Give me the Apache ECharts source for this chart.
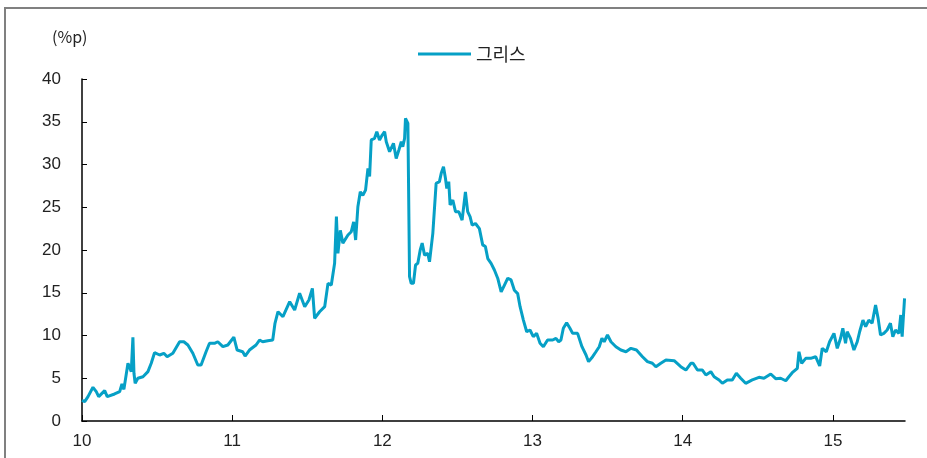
<!DOCTYPE html>
<html>
<head>
<meta charset="utf-8">
<script src="https://cdn.jsdelivr.net/npm/echarts@6/dist/echarts.min.js"></script>
<style>
  html, body { margin: 0; padding: 0; background: #fff; }
  #chart { width: 927px; height: 458px; }
  .frame {
    position: absolute; left: 4px; top: 7px; right: 0; bottom: 0;
    border-left: 2px solid #808080; border-top: 2px solid #808080;
    pointer-events: none;
  }
</style>
</head>
<body>
<div id="chart"></div>
<div class="frame"></div>
<script>
// 그리스 국채 스프레드 (%p), x = 연도(10 = 2010)
const years = [
  10.00, 10.018, 10.040, 10.073, 10.095, 10.111, 10.151, 10.168, 10.217, 10.251,
  10.266, 10.279, 10.306, 10.317, 10.328, 10.339, 10.346, 10.354, 10.372, 10.406,
  10.439, 10.461, 10.483, 10.517, 10.545, 10.567, 10.605, 10.650, 10.678, 10.705,
  10.738, 10.771, 10.793, 10.826, 10.849, 10.882, 10.904, 10.938, 10.971, 11.011,
  11.033, 11.070, 11.086, 11.115, 11.159, 11.182, 11.203, 11.237, 11.270, 11.285,
  11.305, 11.338, 11.383, 11.416, 11.449, 11.483, 11.511, 11.534, 11.549, 11.582,
  11.616, 11.638, 11.660, 11.682, 11.694, 11.704, 11.720, 11.737, 11.771, 11.793,
  11.809, 11.822, 11.837, 11.853, 11.870, 11.888, 11.904, 11.915, 11.926, 11.948,
  11.963, 11.981, 11.999, 12.015, 12.026, 12.048, 12.074, 12.092, 12.110, 12.126,
  12.136, 12.148, 12.154, 12.170, 12.181, 12.192, 12.207, 12.221, 12.236, 12.252,
  12.265, 12.281, 12.302, 12.314, 12.336, 12.358, 12.380, 12.392, 12.407, 12.420,
  12.429, 12.442, 12.451, 12.469, 12.487, 12.509, 12.531, 12.553, 12.568, 12.584,
  12.598, 12.620, 12.646, 12.668, 12.686, 12.702, 12.724, 12.746, 12.768, 12.791,
  12.813, 12.835, 12.857, 12.879, 12.901, 12.917, 12.939, 12.961, 12.983, 13.005,
  13.027, 13.050, 13.072, 13.100, 13.134, 13.156, 13.174, 13.189, 13.205, 13.227,
  13.249, 13.267, 13.300, 13.329, 13.356, 13.373, 13.400, 13.422, 13.444, 13.462,
  13.477, 13.499, 13.522, 13.555, 13.588, 13.622, 13.655, 13.692, 13.732, 13.765,
  13.798, 13.821, 13.854, 13.888, 13.943, 13.987, 14.021, 14.054, 14.069, 14.098,
  14.131, 14.154, 14.187, 14.209, 14.242, 14.264, 14.297, 14.330, 14.357, 14.386,
  14.419, 14.430, 14.463, 14.508, 14.541, 14.586, 14.619, 14.652, 14.686, 14.707,
  14.729, 14.763, 14.774, 14.792, 14.819, 14.852, 14.885, 14.912, 14.929, 14.956,
  14.978, 15.007, 15.029, 15.051, 15.066, 15.084, 15.095, 15.117, 15.140, 15.162,
  15.178, 15.200, 15.218, 15.239, 15.261, 15.284, 15.301, 15.317, 15.339, 15.361,
  15.383, 15.399, 15.417, 15.439, 15.452, 15.461, 15.472, 15.477
];
const greece = [
  2.40, 2.26, 2.85, 3.94, 3.43, 2.85, 3.55, 2.85, 3.16, 3.43,
  4.33, 3.70, 6.75, 6.90, 5.77, 9.80, 5.58, 4.41, 5.00, 5.18,
  5.77, 6.75, 7.99, 7.72, 7.92, 7.52, 7.92, 9.27, 9.27, 8.89,
  7.92, 6.55, 6.55, 8.10, 9.09, 9.09, 9.27, 8.69, 8.89, 9.80,
  8.30, 8.10, 7.60, 8.30, 8.89, 9.47, 9.27, 9.39, 9.47, 11.43,
  12.78, 12.20, 13.95, 12.98, 14.94, 13.37, 14.15, 15.52, 12.00, 12.78,
  13.37, 16.10, 15.90, 18.44, 23.90, 19.60, 22.30, 20.80, 21.75, 22.14,
  23.30, 21.17, 25.06, 26.80, 26.40, 27.00, 29.55, 28.60, 32.87, 33.06,
  33.84, 32.87, 33.45, 33.84, 32.67, 31.50, 32.48, 30.70, 31.70, 32.67,
  32.08, 33.06, 35.40, 34.80, 16.88, 16.10, 16.10, 18.25, 18.44, 20.00,
  20.80, 19.40, 19.60, 18.63, 21.95, 27.80, 28.00, 28.97, 29.75, 28.40,
  27.20, 28.00, 25.26, 25.85, 24.48, 24.48, 23.50, 26.80, 24.48, 23.90,
  22.90, 23.10, 22.50, 20.60, 20.40, 19.00, 18.44, 17.66, 16.70, 15.10,
  15.90, 16.70, 16.50, 15.30, 14.90, 13.37, 11.80, 10.44, 10.64, 9.86,
  10.25, 9.09, 8.69, 9.47, 9.47, 9.67, 9.27, 9.47, 10.84, 11.50,
  10.84, 10.25, 10.25, 8.69, 7.72, 6.94, 7.52, 8.10, 8.69, 9.67,
  9.27, 10.06, 9.27, 8.69, 8.30, 8.10, 8.50, 8.30, 7.52, 6.94,
  6.75, 6.35, 6.75, 7.13, 7.05, 6.35, 5.96, 6.75, 6.75, 5.96,
  5.96, 5.38, 5.77, 5.18, 4.80, 4.41, 4.80, 4.80, 5.58, 5.00,
  4.41, 4.33, 4.80, 5.11, 5.00, 5.50, 4.95, 5.00, 4.71, 5.18,
  5.65, 6.16, 8.10, 6.75, 7.33, 7.33, 7.52, 6.43, 8.50, 8.10,
  9.27, 10.25, 8.50, 9.67, 10.84, 9.09, 10.44, 9.67, 8.30, 9.27,
  10.44, 11.80, 11.03, 11.80, 11.43, 13.57, 12.00, 10.06, 10.25, 10.64,
  11.43, 9.86, 10.64, 10.25, 12.40, 9.86, 10.06, 14.35
];
const xTicks = [10, 11, 12, 13, 14, 15];

const chart = echarts.init(document.getElementById("chart"));
const option = {
  backgroundColor: "#fff",
  animation: false,
  grid: { left: 82, right: 22, top: 79, bottom: 37, containLabel: false },
  graphic: [
    {
      type: "text",
      left: 52,
      top: 29,
      style: { text: "(%p)", font: "16px 'Noto Sans CJK KR'", fill: "#222" },
    },
  ],
  legend: {
    left: 413,
    top: 40,
    icon: "rect",
    itemWidth: 53,
    itemHeight: 3,
    itemGap: 10,
    textStyle: { fontSize: 18, color: "#222", fontFamily: "'Noto Sans CJK KR'" },
    data: ["그리스"],
  },
  xAxis: {
    type: "value",
    min: 10,
    max: 15.48,
    interval: 1,
    splitLine: { show: false },
    axisLine: { lineStyle: { color: "#000", width: 1.5 } },
    axisTick: { inside: true, length: 6, customValues: xTicks, lineStyle: { color: "#000" } },
    axisLabel: {
      customValues: xTicks,
      margin: 12,
      fontSize: 17,
      color: "#222",
      fontFamily: "'Liberation Sans Narrow', 'Liberation Sans'",
    },
  },
  yAxis: {
    type: "value",
    min: 0,
    max: 40,
    interval: 5,
    splitLine: { show: false },
    axisLine: { show: true, lineStyle: { color: "#000", width: 1.5 } },
    axisTick: { show: true, inside: true, length: 5, lineStyle: { color: "#000" } },
    axisLabel: { margin: 21, fontSize: 17, color: "#222", fontFamily: "'Liberation Sans'" },
  },
  series: [
    {
      name: "그리스",
      type: "line",
      symbol: "none",
      color: "#06a0c6",
      lineStyle: { width: 3, color: "#06a0c6" },
      data: years.map((y, i) => [y, greece[i]]),
    },
  ],
};
chart.setOption(option);
</script>
</body>
</html>
